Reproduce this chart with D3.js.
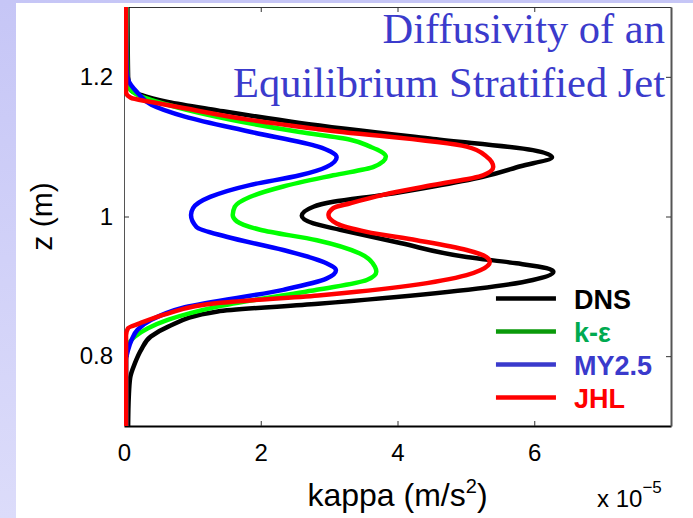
<!DOCTYPE html>
<html>
<head>
<meta charset="utf-8">
<script src="https://cdn.jsdelivr.net/npm/d3@7"></script>
<style>
  html, body { margin: 0; padding: 0; background: #fff; }
  svg { display: block; }
</style>
</head>
<body>
<svg id="chart" width="693" height="518"></svg>
<script>
// tick labels
const xTicks = [0, 2, 4, 6];
const yTicks = [0.8, 1.0, 1.2];
const titleLines = ["Diffusivity of an", "Equilibrium Stratified Jet"];
const legendNames = ["DNS", "k-ε", "MY2.5", "JHL"];

// profiles, [z (m), kappa (x 1e-5 m/s^2)]
const dns = [[1.300,0.05],[1.200,0.06],[1.181,0.10],[1.174,0.25],[1.164,0.64],[1.152,1.37],[1.134,2.57],
  [1.111,4.52],[1.095,5.98],[1.085,6.26],[1.072,5.80],[1.057,5.25],[1.043,4.52],[1.031,3.79],
  [1.021,3.06],[1.014,2.77],[1.001,2.60],[0.990,2.77],[0.981,3.16],[0.962,4.04],[0.942,5.01],[0.933,5.74],
  [0.926,6.18],[0.921,6.28],[0.909,5.98],[0.875,2.84],[0.864,1.37],[0.842,0.64],[0.828,0.39],[0.809,0.25],
  [0.790,0.16],[0.769,0.09],[0.742,0.07],[0.700,0.06]];
const kEps = [[1.300,0.04],[1.200,0.05],[1.184,0.08],[1.174,0.20],[1.160,0.64],[1.121,2.57],[1.110,3.31],
  [1.100,3.60],[1.093,3.76],[1.086,3.83],[1.071,3.65],[1.059,3.06],[1.043,2.33],[1.028,1.84],[1.014,1.62],
  [1.002,1.59],[0.993,1.65],[0.981,1.99],[0.966,2.82],[0.947,3.45],[0.928,3.67],[0.921,3.69],[0.909,3.55],
  [0.895,2.82],[0.871,1.37],[0.852,0.64],[0.840,0.35],[0.828,0.16],[0.816,0.06],[0.800,0.03],[0.700,0.03]];
const my25 = [[1.300,0.03],[1.210,0.04],[1.196,0.06],[1.177,0.20],[1.160,0.40],[1.143,0.89],[1.121,1.86],
  [1.100,2.84],[1.093,3.02],[1.085,3.11],[1.071,2.96],[1.059,2.57],[1.045,1.84],[1.028,1.26],[1.012,1.01],
  [1.002,0.98],[0.985,1.06],[0.971,1.50],[0.952,2.33],[0.933,2.96],[0.923,3.10],[0.911,2.96],[0.895,2.33],
  [0.870,0.89],[0.852,0.40],[0.838,0.20],[0.823,0.11],[0.809,0.06],[0.795,0.03],[0.700,0.03]];
const jhl = [[1.300,0.03],[1.178,0.03],[1.170,0.10],[1.164,0.40],[1.155,0.89],[1.138,1.86],[1.125,2.84],
  [1.100,5.01],[1.086,5.30],[1.071,5.40],[1.059,5.25],[1.045,4.52],[1.031,3.79],[1.019,3.31],[1.012,3.06],
  [1.002,2.99],[0.990,3.11],[0.978,3.55],[0.966,4.28],[0.952,5.01],[0.942,5.30],[0.935,5.35],[0.923,5.21],
  [0.916,5.01],[0.887,2.84],[0.876,1.37],[0.861,0.64],[0.847,0.23],[0.840,0.06],[0.830,0.03],[0.700,0.03]];

const series = [
  { name: legendNames[0], data: dns,  color: "#000000", legendLine: "#000000", legendText: "#000000" },
  { name: legendNames[1], data: kEps, color: "#00ff00", legendLine: "#0a9a0a", legendText: "#00aa50" },
  { name: legendNames[2], data: my25, color: "#0000ff", legendLine: "#3a3acc", legendText: "#3a3acc" },
  { name: legendNames[3], data: jhl,  color: "#ff0000", legendLine: "#ff0000", legendText: "#ff0000" }
];

const svg = d3.select("#chart"),
      W = 693, H = 518,
      margin = { top: 7, right: 22, bottom: 92, left: 124 },
      width = W - margin.left - margin.right,
      height = H - margin.top - margin.bottom;

// slide background: lavender edge + white panel
const grad = svg.append("defs").append("linearGradient")
    .attr("id", "bg").attr("x1", 0).attr("y1", 0).attr("x2", 0).attr("y2", 1);
grad.append("stop").attr("offset", 0).attr("stop-color", "#c6c6f6");
grad.append("stop").attr("offset", 1).attr("stop-color", "#dcdcfa");
svg.append("rect").attr("width", W).attr("height", H).attr("fill", "url(#bg)");
svg.append("rect").attr("x", 16).attr("y", 3).attr("width", W - 16).attr("height", H - 3).attr("fill", "#fff");

const chart = svg.append("g").attr("transform", `translate(${margin.left},${margin.top})`);

const x = d3.scaleLinear().domain([0, 8]).range([0, width]);
const y = d3.scaleLinear().domain([0.7, 1.3]).range([height, 0]);

const font = "'Liberation Sans', Arial, Helvetica, sans-serif";

// axes, MATLAB style: ticks inward on all four sides
const gx = chart.append("g").attr("transform", `translate(0,${height})`)
    .call(d3.axisBottom(x).tickValues(xTicks).tickSizeInner(-5).tickSizeOuter(0).tickPadding(18).tickFormat(d3.format("~g")));
const gy = chart.append("g")
    .call(d3.axisLeft(y).tickValues(yTicks).tickSizeInner(-5).tickSizeOuter(0).tickPadding(11).tickFormat(d3.format("~g")));
const gt = chart.append("g")
    .call(d3.axisTop(x).tickValues(xTicks).tickSizeInner(-5).tickSizeOuter(0).tickFormat(""));
const gr = chart.append("g").attr("transform", `translate(${width},0)`)
    .call(d3.axisRight(y).tickValues(yTicks).tickSizeInner(-5).tickSizeOuter(0).tickFormat(""));

[gx, gy, gt, gr].forEach(g => {
  g.selectAll("text").attr("font-family", font).attr("font-size", 24).attr("fill", "#000");
  g.selectAll("line").attr("stroke", "#333");
});
gx.select(".domain").attr("stroke", "#000").attr("stroke-width", 2);
gy.select(".domain").attr("stroke", "#555").attr("stroke-width", 1);
gt.select(".domain").attr("stroke", "#333").attr("stroke-width", 1);
gr.select(".domain").attr("stroke", "#555").attr("stroke-width", 2);

// curves (z is monotonic along each profile)
const line = d3.line()
    .x(d => x(d[1]))
    .y(d => y(d[0]))
    .curve(d3.curveMonotoneY);

chart.append("defs").append("clipPath").attr("id", "plotclip")
  .append("rect").attr("x", 0).attr("y", -1).attr("width", width).attr("height", height + 2);

chart.append("g").attr("clip-path", "url(#plotclip)")
  .selectAll("path.curve")
  .data(series)
  .enter()
  .append("path")
  .attr("class", "curve")
  .attr("d", d => line(d.data))
  .attr("fill", "none")
  .attr("stroke", d => d.color)
  .attr("stroke-width", 4.5)
  .attr("stroke-linejoin", "round");

// legend
const legend = chart.append("g").attr("transform", `translate(${x(5.44)},${y(0.8825)})`);
const row = legend.selectAll("g").data(series).enter().append("g")
    .attr("transform", (d, i) => `translate(0,${i * 33})`);
row.append("line")
    .attr("x1", 0).attr("x2", 60).attr("y1", 0).attr("y2", 0)
    .attr("stroke", d => d.legendLine).attr("stroke-width", 4.5);
row.append("text")
    .attr("x", 78).attr("y", 10)
    .attr("font-family", font).attr("font-weight", "bold").attr("font-size", 27)
    .attr("fill", d => d.legendText)
    .text(d => d.name);

// title
svg.append("g").selectAll("text").data(titleLines).enter().append("text")
    .attr("x", 665).attr("y", (d, i) => 43 + i * 54)
    .attr("text-anchor", "end")
    .attr("font-family", "'Liberation Serif', 'Times New Roman', serif")
    .attr("font-size", 42.5)
    .attr("fill", "#3b3bcc")
    .text(d => d);

// axis labels
const xl = svg.append("text")
    .attr("x", margin.left + width / 2).attr("y", 506)
    .attr("text-anchor", "middle")
    .attr("font-family", font).attr("font-size", 32);
xl.append("tspan").text("kappa (m/s");
xl.append("tspan").attr("font-size", 20).attr("dy", -13).text("2");
xl.append("tspan").attr("dy", 13).text(")");

svg.append("text")
    .attr("transform", `translate(52,${margin.top + height / 2}) rotate(-90)`)
    .attr("text-anchor", "middle")
    .attr("font-family", font).attr("font-size", 30)
    .text("z (m)");

const sc = svg.append("text")
    .attr("x", 597).attr("y", 507)
    .attr("font-family", font).attr("font-size", 24);
sc.append("tspan").text("x 10");
sc.append("tspan").attr("font-size", 17).attr("dy", -14).text("−5");
</script>
</body>
</html>
